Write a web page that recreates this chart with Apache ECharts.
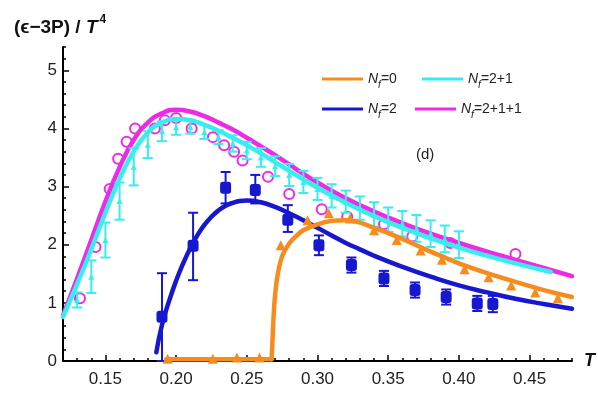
<!DOCTYPE html>
<html>
<head>
<meta charset="utf-8">
<script src="https://cdn.jsdelivr.net/npm/echarts@6/dist/echarts.min.js"></script>
<style>
  html, body { margin: 0; padding: 0; background: #fff; }
  #chart { width: 598px; height: 397px; }
</style>
</head>
<body>
<div id="chart"></div>
<script>
// Trace anomaly (ε−3P)/T^4 versus T for several flavour contents

const xTickLabels = [0.15, 0.20, 0.25, 0.30, 0.35, 0.40, 0.45];
const yTickLabels = [0, 1, 2, 3, 4, 5];

// Model curves [T, value]
const curveNf0Flat = [[0.193,0.03],[0.2675,0.03]];
const curveNf0 = [[0.2675,0.03],[0.268,0.25],[0.2687,0.65],[0.2697,1.05],[0.2716,1.45],[0.275,1.8],[0.28,2.02],[0.285,2.15],[0.29,2.25],[0.30,2.35],[0.31,2.41],[0.32,2.42],[0.33,2.38],[0.34,2.29],[0.35,2.2],[0.36,2.1],[0.37,1.99],[0.38,1.88],[0.39,1.78],[0.40,1.68],[0.42,1.51],[0.44,1.36],[0.46,1.22],[0.48,1.1]];
const curveNf2 = [[0.186,0.15],[0.19,0.62],[0.195,1.03],[0.20,1.38],[0.205,1.68],[0.21,1.94],[0.215,2.16],[0.22,2.34],[0.225,2.48],[0.23,2.59],[0.235,2.67],[0.24,2.72],[0.245,2.75],[0.25,2.76],[0.26,2.73],[0.27,2.65],[0.28,2.54],[0.29,2.42],[0.30,2.29],[0.31,2.16],[0.32,2.03],[0.33,1.92],[0.34,1.81],[0.36,1.62],[0.38,1.45],[0.40,1.3],[0.42,1.18],[0.44,1.07],[0.46,0.98],[0.48,0.9]];
const curveNf21 = [[0.12,0.76],[0.13,1.32],[0.14,1.92],[0.15,2.55],[0.16,3.13],[0.17,3.6],[0.18,3.93],[0.19,4.1],[0.20,4.16],[0.21,4.14],[0.22,4.06],[0.23,3.96],[0.24,3.84],[0.25,3.71],[0.26,3.57],[0.27,3.42],[0.28,3.27],[0.29,3.12],[0.30,2.98],[0.32,2.72],[0.34,2.49],[0.36,2.29],[0.38,2.11],[0.40,1.95],[0.42,1.81],[0.44,1.68],[0.465,1.53]];
const curveNf211 = [[0.12,0.78],[0.13,1.42],[0.14,2.08],[0.15,2.74],[0.16,3.33],[0.17,3.8],[0.18,4.1],[0.19,4.26],[0.20,4.32],[0.21,4.29],[0.22,4.21],[0.23,4.1],[0.24,3.98],[0.25,3.84],[0.26,3.69],[0.27,3.54],[0.28,3.38],[0.29,3.22],[0.30,3.07],[0.32,2.8],[0.34,2.57],[0.36,2.37],[0.38,2.19],[0.40,2.03],[0.42,1.88],[0.44,1.74],[0.46,1.6],[0.48,1.46]];

// Lattice points, N_f = 0 (triangles)
const nf0T   = [0.194, 0.226, 0.243, 0.259, 0.274, 0.293, 0.308, 0.323, 0.340, 0.356, 0.373, 0.388, 0.404, 0.421, 0.437, 0.454, 0.470];
const nf0Val = [0.04, 0.04, 0.06, 0.06, 1.99, 2.42, 2.54, 2.45, 2.25, 2.08, 1.9, 1.74, 1.58, 1.44, 1.3, 1.18, 1.08];

// Lattice points, N_f = 2 (squares with error bars)
const nf2T   = [0.190, 0.212, 0.235, 0.256, 0.279, 0.301, 0.324, 0.347, 0.369, 0.391, 0.413, 0.424];
const nf2Val = [0.76, 1.98, 2.98, 2.94, 2.43, 1.99, 1.65, 1.42, 1.22, 1.10, 0.99, 0.98];
const nf2Lo  = [0.0, 1.39, 2.71, 2.71, 2.22, 1.82, 1.52, 1.29, 1.09, 0.97, 0.86, 0.84];
const nf2Hi  = [1.51, 2.55, 3.25, 3.2, 2.68, 2.16, 1.78, 1.55, 1.35, 1.23, 1.12, 1.12];

// Lattice points, N_f = 2+1 (error bars)
const nf21T   = [0.13,0.14,0.15,0.16,0.17,0.18,0.19,0.20,0.21,0.22,0.23,0.24,0.25,0.26,0.27,0.28,0.29,0.30,0.31,0.32,0.33,0.34,0.35,0.36,0.37,0.38,0.39,0.40];
const nf21Val = [1.05,1.45,2.08,2.75,3.34,3.72,3.95,4.02,4.03,3.94,3.85,3.74,3.62,3.50,3.35,3.20,3.08,2.96,2.84,2.74,2.63,2.52,2.43,2.36,2.28,2.19,2.10,2.00];
const nf21Err = [0.13,0.28,0.30,0.32,0.32,0.23,0.17,0.13,0.12,0.12,0.12,0.14,0.15,0.16,0.17,0.19,0.19,0.19,0.20,0.19,0.20,0.21,0.21,0.22,0.23,0.23,0.23,0.23];

// Lattice points, N_f = 2+1+1 (open circles)
const nf211T   = [0.132,0.143,0.153,0.159,0.165,0.171,0.185,0.192,0.200,0.211,0.226,0.234,0.241,0.247,0.265,0.280,0.303,0.321,0.347,0.367,0.394,0.440];
const nf211Val = [1.08,1.96,2.96,3.48,3.77,4.0,4.0,4.14,4.18,4.0,3.85,3.71,3.6,3.45,3.17,2.87,2.61,2.48,2.35,2.14,2.03,1.84];

const C_ORANGE = '#F78C1E';
const C_BLUE = '#1717D0';
const C_CYAN = '#38EDED';
const C_MAGENTA = '#EE2AE6';
const FONT = '"Liberation Sans", Arial, Helvetica, sans-serif';
const LINE_W = 4.5;

const xMinor = [];
for (let i = 12; i <= 48; i++) xMinor.push(i / 100);
const yMinor = [];
for (let i = 0; i <= 27; i++) yMinor.push(i / 5);

function zipPairs(xs, ys) { return xs.map((x, i) => [x, ys[i]]); }

function errorBarSeries(name, data, color, capHalf, z) {
  return {
    type: 'custom',
    name: name,
    z: z,
    silent: true,
    encode: { x: 0, y: [1, 2] },
    data: data,
    renderItem: function (params, api) {
      const x = api.value(0);
      const lo = api.coord([x, api.value(1)]);
      const hi = api.coord([x, api.value(2)]);
      const st = { stroke: color, lineWidth: 2, fill: null };
      return {
        type: 'group',
        children: [
          { type: 'line', shape: { x1: lo[0], y1: lo[1], x2: hi[0], y2: hi[1] }, style: st },
          { type: 'line', shape: { x1: hi[0] - capHalf, y1: hi[1], x2: hi[0] + capHalf, y2: hi[1] }, style: st },
          { type: 'line', shape: { x1: lo[0] - capHalf, y1: lo[1], x2: lo[0] + capHalf, y2: lo[1] }, style: st }
        ]
      };
    }
  };
}

function curveSeries(name, data, color, z) {
  return {
    type: 'line', name: name, z: z, data: data,
    showSymbol: false, symbol: 'none', smooth: 0.5,
    lineStyle: { color: color, width: LINE_W, cap: 'round', join: 'round' },
    itemStyle: { color: color }
  };
}

const legendRich = {
  n: { fontFamily: FONT, fontSize: 14, fontStyle: 'italic', color: '#222', lineHeight: 22 },
  s: { fontFamily: FONT, fontSize: 10, fontStyle: 'italic', color: '#222', verticalAlign: 'bottom', lineHeight: 12 },
  t: { fontFamily: FONT, fontSize: 14, color: '#222', lineHeight: 22 }
};
function legendAt(name, color, left, top) {
  return {
    data: [{ name: name, icon: 'rect', itemStyle: { color: color } }],
    left: left, top: top,
    padding: 0,
    itemWidth: 41, itemHeight: 3,
    selectedMode: false,
    formatter: function (nm) { return '{n|N}{s|f}{t|' + nm.replace('N_f', '') + '}'; },
    textStyle: { rich: legendRich }
  };
}

const chart = echarts.init(document.getElementById('chart'), null, { renderer: 'canvas' });

chart.setOption({
  animation: false,
  backgroundColor: '#fff',
  grid: { left: 63, right: 24, top: 47, bottom: 36, containLabel: false },
  legend: [
    legendAt('N_f=0', C_ORANGE, 322, 72),
    legendAt('N_f=2+1', C_CYAN, 422, 72),
    legendAt('N_f=2', C_BLUE, 322, 102),
    legendAt('N_f=2+1+1', C_MAGENTA, 415, 102)
  ],
  xAxis: [
    {
      type: 'value', min: 0.12, max: 0.48, position: 'bottom',
      axisLine: { show: true, lineStyle: { color: '#000', width: 2 } },
      axisTick: { show: true, inside: true, length: 6, customValues: xTickLabels, lineStyle: { color: '#000', width: 1.5 } },
      axisLabel: { customValues: xTickLabels, margin: 10, fontFamily: FONT, fontSize: 17, color: '#222',
        formatter: v => v.toFixed(2) },
      splitLine: { show: false },
      name: 'T', nameLocation: 'end', nameGap: 12,
      nameTextStyle: { fontFamily: FONT, fontSize: 18, fontWeight: 'bold', fontStyle: 'italic', color: '#111' }
    },
    {
      type: 'value', min: 0.12, max: 0.48, position: 'bottom', offset: 0,
      axisLine: { show: false },
      axisTick: { show: true, inside: true, length: 3, customValues: xMinor, lineStyle: { color: '#000', width: 1.5 } },
      axisLabel: { show: false },
      splitLine: { show: false }
    }
  ],
  yAxis: [
    {
      type: 'value', min: 0, max: 5.4, position: 'left',
      axisLine: { show: true, lineStyle: { color: '#000', width: 2 } },
      axisTick: { show: true, inside: true, length: 6, customValues: yTickLabels, lineStyle: { color: '#000', width: 1.5 } },
      axisLabel: { customValues: yTickLabels, margin: 6, fontFamily: FONT, fontSize: 17, color: '#222' },
      splitLine: { show: false }
    },
    {
      type: 'value', min: 0, max: 5.4, position: 'left', offset: 0,
      axisLine: { show: false },
      axisTick: { show: true, inside: true, length: 3, customValues: yMinor, lineStyle: { color: '#000', width: 1.5 } },
      axisLabel: { show: false },
      splitLine: { show: false }
    }
  ],
  graphic: [
    {
      type: 'text', left: 14, top: 14,
      style: {
        text: '{a|(ϵ−3P) / }{b|T}{c|4}',
        rich: {
          a: { fontFamily: FONT, fontSize: 19, fontWeight: 'bold', fill: '#111', lineHeight: 23, verticalAlign: 'bottom' },
          b: { fontFamily: FONT, fontSize: 19, fontWeight: 'bold', fontStyle: 'italic', fill: '#111', lineHeight: 23, verticalAlign: 'bottom' },
          c: { fontFamily: FONT, fontSize: 12, fontWeight: 'bold', fill: '#111', lineHeight: 13, verticalAlign: 'top', padding: [0, 0, 0, 2] }
        }
      }
    },
    {
      type: 'text', left: 416, top: 147,
      style: { text: '(d)', fontFamily: FONT, fontSize: 15, fill: '#222' }
    }
  ],
  series: [
    {
      type: 'scatter', name: 'N_f=2+1+1 data', z: 2,
      data: zipPairs(nf211T, nf211Val),
      symbol: 'emptyCircle', symbolSize: 10,
      itemStyle: { color: C_MAGENTA, borderWidth: 2, opacity: 1 }
    },
    curveSeries('N_f=2+1+1', curveNf211, C_MAGENTA, 3),
    curveSeries('N_f=2+1', curveNf21, C_CYAN, 3),
    errorBarSeries('N_f=2+1 errors', nf21T.map((t, i) => [t, nf21Val[i] - nf21Err[i], nf21Val[i] + nf21Err[i]]), C_CYAN, 5, 4),
    {
      type: 'scatter', name: 'N_f=2+1 data', z: 4,
      data: zipPairs(nf21T, nf21Val),
      symbol: 'triangle', symbolSize: 6,
      itemStyle: { color: C_CYAN, opacity: 1 }
    },
    errorBarSeries('N_f=2 errors', nf2T.map((t, i) => [t, nf2Lo[i], nf2Hi[i]]), C_BLUE, 5, 4),
    {
      type: 'scatter', name: 'N_f=2 data', z: 4,
      data: zipPairs(nf2T, nf2Val),
      symbol: 'roundRect', symbolSize: [11, 12],
      itemStyle: { color: C_BLUE, opacity: 1 }
    },
    curveSeries('N_f=2', curveNf2, C_BLUE, 5),
    {
      type: 'scatter', name: 'N_f=0 data', z: 5,
      data: zipPairs(nf0T, nf0Val),
      symbol: 'triangle', symbolSize: 10,
      itemStyle: { color: C_ORANGE, opacity: 1 }
    },
    Object.assign(curveSeries('N_f=0', curveNf0Flat, C_ORANGE, 6), { smooth: false }),
    Object.assign(curveSeries('N_f=0', curveNf0, C_ORANGE, 6), { smooth: 0.3 })
  ]
});
</script>
</body>
</html>
